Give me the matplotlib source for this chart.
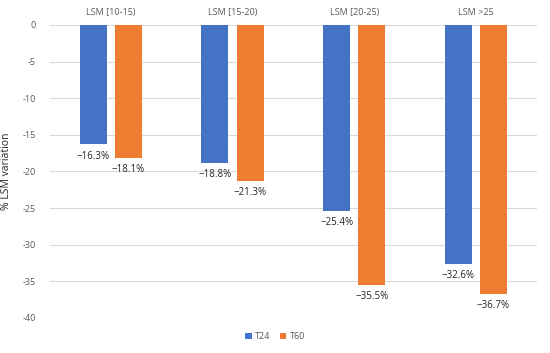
import matplotlib.pyplot as plt
import numpy as np

categories = ["LSM [10-15)", "LSM [15-20)", "LSM [20-25)", "LSM >25"]
t24 = [-16.3, -18.8, -25.4, -32.6]
t60 = [-18.1, -21.3, -35.5, -36.7]
yticks = [0, -5, -10, -15, -20, -25, -30, -35, -40]

plt.rcParams["font.family"] = ["Open Sans", "DejaVu Sans"]

fig = plt.figure(figsize=(5.5, 3.53), dpi=100)
ax = fig.add_axes([0.0909, 0.0992, 0.885, 0.830])

x = np.arange(len(categories))
w = 0.22
off = 0.145
b1 = ax.bar(x - off, t24, w, color="#4472C4", label="T24", zorder=3)
b2 = ax.bar(x + off, t60, w, color="#ED7D31", label="T60", zorder=3)

# etiquetas de valor abaixo de cada barra
for bars, vals in ((b1, t24), (b2, t60)):
    for b, v in zip(bars, vals):
        ax.annotate(f"\u2212{abs(v):.1f}%", (b.get_x() + b.get_width() / 2, v),
                    xytext=(0, -4.5), textcoords="offset points",
                    ha="center", va="top", fontsize=7, color="#262626")

ax.set_xlim(-0.5, len(categories) - 0.5)
ax.set_ylim(-40, 0)
ax.set_yticks(yticks)
ax.set_yticklabels([str(t) for t in yticks])
ax.set_xticks(x)
ax.set_xticklabels(categories)
ax.xaxis.tick_top()
ax.tick_params(axis="both", length=0, labelsize=6.5, colors="#595959")
ax.tick_params(axis="x", pad=6)
ax.tick_params(axis="y", pad=10)
ax.grid(axis="y", color="#D9D9D9", linewidth=0.8, zorder=0)
for s in ax.spines.values():
    s.set_visible(False)

ax.set_ylabel("% LSM variation", fontsize=7.5, color="#262626", labelpad=8)

fig.legend(loc="lower center", bbox_to_anchor=(0.5, 0.01), ncol=2, frameon=False,
           fontsize=6.5, handlelength=0.7, handleheight=0.7, columnspacing=1.0,
           handletextpad=0.4, labelcolor="#595959")

fig.savefig("out.png", dpi=100)
